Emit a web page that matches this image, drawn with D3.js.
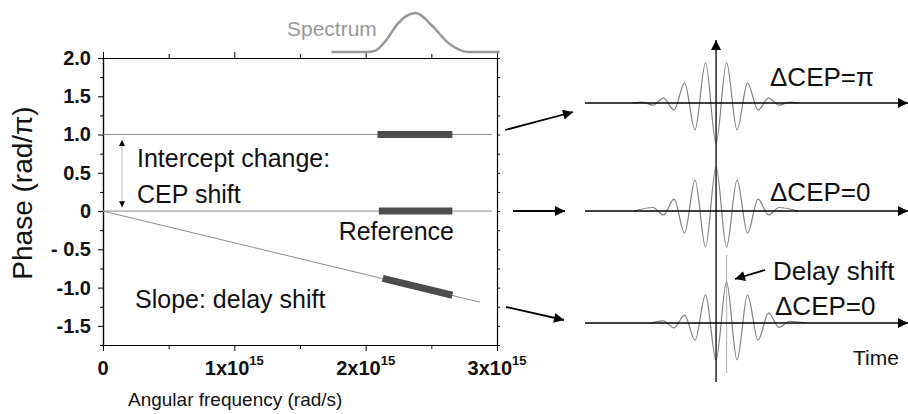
<!DOCTYPE html>
<html>
<head>
<meta charset="utf-8">
<script src="https://cdn.jsdelivr.net/npm/d3@7"></script>
<style>
  body { margin: 0; background: #fff; }
  svg { display: block; font-family: "Liberation Sans", Arial, Helvetica, sans-serif; }
</style>
</head>
<body>
<div id="chart"></div>
<script>
// ---- data ----
const phaseTicks = [-1.5, -1.0, -0.5, 0, 0.5, 1.0, 1.5, 2.0];
const phaseTickLabels = ["-1.5", "-1.0", "- 0.5", "0", "0.5", "1.0", "1.5", "2.0"];
const phaseMinor = [-1.75, -1.25, -0.75, -0.25, 0.25, 0.75, 1.25, 1.75];
const freqTicks = [0, 1e15, 2e15, 3e15];
const freqTickMantissa = ["0", "1x10", "2x10", "3x10"];
const freqTickExp = ["", "15", "15", "15"];
const freqMinor = [0.5e15, 1.5e15, 2.5e15];

// thin phase lines, [omega, phase/pi]
const cepLine = [[0, 1.0], [2.96e15, 1.0]];
const refLine = [[0, 0], [2.96e15, 0]];
const slopeLine = [[0, 0], [2.87e15, -1.19]];
// thick parts over the spectrum
const cepBar = [[2.09e15, 1.0], [2.66e15, 1.0]];
const refBar = [[2.1e15, 0], [2.66e15, 0]];
const slopeBar = [[2.13e15, -0.88], [2.66e15, -1.10]];

// spectrum drawn above the frame
const spectrumOmega = [1.74e15, 2.01e15, 2.07e15, 2.16e15, 2.24e15, 2.38e15, 2.51e15, 2.62e15, 2.72e15, 2.79e15, 3.02e15];
const spectrumValue = [0, 0, 0.03, 0.32, 0.71, 1.0, 0.66, 0.26, 0.05, 0, 0];

// pulse field extrema (time in optical cycles, field normalised)
const pulsePiTime = [-3.95, -3.5, -3, -2.5, -2, -1.5, -1, -0.5, 0, 0.5, 1, 1.5, 2, 2.5, 3, 3.5, 3.9];
const pulsePiField = [0, 0.02, -0.05, 0.11, -0.16, 0.45, -0.61, 0.91, -0.91, 0.91, -0.61, 0.45, -0.16, 0.11, -0.05, 0.02, 0];
const pulseZeroTime = [-3.9, -3, -2.5, -2, -1.5, -1, -0.5, 0, 0.5, 1, 1.5, 2, 2.5, 3, 3.9];
const pulseZeroField = [0, 0.08, -0.09, 0.27, -0.5, 0.7, -0.82, 1.0, -0.82, 0.7, -0.5, 0.27, -0.09, 0.08, 0];
const pulseDelayTime = [-3.1, -2.5, -2, -1.5, -1, -0.5, 0, 0.5, 1, 1.5, 2, 2.5, 3, 3.5, 4.3];
const pulseDelayField = [0, 0.05, -0.11, 0.18, -0.39, 0.64, -0.84, 0.93, -0.84, 0.64, -0.39, 0.23, -0.1, 0.04, 0];
const delayMark = 0.5;

const rowLabels = ["\u0394CEP=\u03c0", "\u0394CEP=0", "\u0394CEP=0"];

// ---- layout ----
const W = 908, H = 414;
const plot = { left: 103, right: 497, top: 58, bottom: 345 };
const thin = "#8c8c8c", bar = "#4d4d4d";

const svg = d3.select("#chart").append("svg")
  .attr("width", W)
  .attr("height", H);

const defs = svg.append("defs");
function marker(id, len, wid) {
  defs.append("marker")
    .attr("id", id)
    .attr("viewBox", "0 0 10 10")
    .attr("refX", 10).attr("refY", 5)
    .attr("markerUnits", "userSpaceOnUse")
    .attr("markerWidth", len).attr("markerHeight", wid)
    .attr("orient", "auto-start-reverse")
    .append("path")
    .attr("d", "M0,0L10,5L0,10z")
    .attr("fill", "#000");
}
marker("head-big", 16, 10);
marker("head-axis", 12, 10);
marker("head-small", 9, 6);

const x = d3.scaleLinear().domain([0, 3e15]).range([plot.left, plot.right]);
const y = d3.scaleLinear().domain([-1.75, 2.0]).range([plot.bottom, plot.top]);

// axes
const gAxes = svg.append("g");
function styleAxis(g) {
  g.select(".domain").attr("stroke", "#000").attr("stroke-width", 1.2);
  g.selectAll(".tick line").attr("stroke", "#000").attr("stroke-width", 1);
}
gAxes.append("g").attr("transform", `translate(${plot.left},0)`)
  .call(d3.axisLeft(y).tickValues(phaseTicks).tickSize(5).tickSizeOuter(0).tickPadding(7)
    .tickFormat((d, i) => phaseTickLabels[i]))
  .call(styleAxis)
  .call(g => g.selectAll("text").attr("font-size", 20).attr("font-weight", "bold").attr("fill", "#111"));
gAxes.append("g").attr("transform", `translate(${plot.left},0)`)
  .call(d3.axisLeft(y).tickValues(phaseMinor).tickSize(3).tickSizeOuter(0).tickFormat(""))
  .call(styleAxis);
gAxes.append("g").attr("transform", `translate(${plot.right},0)`)
  .call(d3.axisRight(y).tickValues(phaseTicks.concat(phaseMinor)).tickSize(3).tickSizeOuter(0).tickFormat(""))
  .call(styleAxis);

[["bottom", plot.bottom, d3.axisBottom], ["top", plot.top, d3.axisTop]].forEach(([name, pos, ax]) => {
  gAxes.append("g").attr("transform", `translate(0,${pos})`)
    .call(ax(x).tickValues(freqTicks).tickSize(6).tickSizeOuter(0).tickFormat(""))
    .call(styleAxis);
  gAxes.append("g").attr("transform", `translate(0,${pos})`)
    .call(ax(x).tickValues(freqMinor).tickSize(4).tickSizeOuter(0).tickFormat(""))
    .call(styleAxis);
});

// x tick labels with superscript exponents
const xl = gAxes.selectAll(".xlab")
  .data(freqTicks)
  .join("text")
  .attr("class", "xlab")
  .attr("x", d => x(d))
  .attr("y", 375)
  .attr("text-anchor", "middle")
  .attr("font-size", 20)
  .attr("font-weight", "bold")
  .attr("fill", "#111");
xl.append("tspan").text((d, i) => freqTickMantissa[i]);
xl.append("tspan")
  .attr("dy", -10)
  .attr("font-size", 13)
  .text((d, i) => freqTickExp[i]);

// axis titles
svg.append("text")
  .attr("x", 128).attr("y", 406)
  .attr("font-size", 19)
  .attr("fill", "#111")
  .text("Angular frequency (rad/s)");
svg.append("text")
  .attr("transform", "translate(32,193) rotate(-90)")
  .attr("text-anchor", "middle")
  .attr("font-size", 28)
  .attr("fill", "#111")
  .text("Phase (rad/\u03c0)");

// phase lines
const line = d3.line().x(d => x(d[0])).y(d => y(d[1]));
[cepLine, refLine, slopeLine].forEach(d => {
  svg.append("path").datum(d).attr("d", line)
    .attr("fill", "none").attr("stroke", thin).attr("stroke-width", 1);
});
[cepBar, refBar, slopeBar].forEach(d => {
  svg.append("path").datum(d).attr("d", line)
    .attr("fill", "none").attr("stroke", bar).attr("stroke-width", 7);
});

// spectrum
const sy = d3.scaleLinear().domain([0, 1]).range([52, 13]);
svg.append("path")
  .datum(d3.zip(spectrumOmega, spectrumValue))
  .attr("d", d3.line().x(d => x(d[0])).y(d => sy(d[1])).curve(d3.curveMonotoneX))
  .attr("fill", "none")
  .attr("stroke", "#999")
  .attr("stroke-width", 2.5);
svg.append("text")
  .attr("x", 287).attr("y", 36)
  .attr("font-size", 21)
  .attr("fill", "#999")
  .text("Spectrum");

// double arrow for the intercept change
svg.append("line")
  .attr("x1", 122).attr("x2", 122)
  .attr("y1", y(0.93)).attr("y2", y(0.05))
  .attr("stroke", "#bbb").attr("stroke-width", 1)
  .attr("marker-start", "url(#head-small)")
  .attr("marker-end", "url(#head-small)");

// annotations in the plot
const note = (tx, ty, s, anchor, size) => svg.append("text")
  .attr("x", tx).attr("y", ty)
  .attr("text-anchor", anchor || "start")
  .attr("font-size", size || 25)
  .attr("fill", "#111")
  .text(s);
note(137, 167, "Intercept change:");
note(137, 203, "CEP shift");
note(454, 240, "Reference", "end");
note(135, 308, "Slope: delay shift");

// ---- pulses on the right ----
const rowY = [103, 211, 323];
const t = d3.scaleLinear().domain([-6.24, 9.14]).range([585, 908]);
const f = d3.scaleLinear().domain([-1, 1]).range([44, -44]);
const pulses = [
  d3.zip(pulsePiTime, pulsePiField),
  d3.zip(pulseZeroTime, pulseZeroField),
  d3.zip(pulseDelayTime, pulseDelayField)
];
const wave = d3.line().x(d => t(d[0])).y(d => f(d[1])).curve(d3.curveMonotoneX);

// delay marker behind the bottom pulse
svg.append("line")
  .attr("x1", t(delayMark)).attr("x2", t(delayMark))
  .attr("y1", 255).attr("y2", 373)
  .attr("stroke", "#bbb").attr("stroke-width", 1.2);

pulses.forEach((p, i) => {
  const g = svg.append("g").attr("transform", `translate(0,${rowY[i]})`);
  g.append("path").datum(p).attr("d", wave)
    .attr("fill", "none").attr("stroke", "#808080").attr("stroke-width", 1.2);
  g.append("line")
    .attr("x1", t.range()[0]).attr("x2", t.range()[1])
    .attr("y1", 0).attr("y2", 0)
    .attr("stroke", "#000").attr("stroke-width", 1.3)
    .attr("marker-end", "url(#head-axis)");
});

// vertical time-zero axis
svg.append("line")
  .attr("x1", t(0)).attr("x2", t(0))
  .attr("y1", 382).attr("y2", 40)
  .attr("stroke", "#000").attr("stroke-width", 1.3)
  .attr("marker-end", "url(#head-axis)");

// arrows from the phase plot to the pulses
[[505, 130, 573, 112], [513, 211, 565, 211], [506, 307, 564, 320], [765, 270, 735, 279]].forEach(a => {
  svg.append("line")
    .attr("x1", a[0]).attr("y1", a[1]).attr("x2", a[2]).attr("y2", a[3])
    .attr("stroke", "#000").attr("stroke-width", 1.8)
    .attr("marker-end", "url(#head-big)");
});

// labels on the right
note(770, 86, rowLabels[0], "start", 26);
note(770, 201, rowLabels[1], "start", 26);
note(773, 280, "Delay shift", "start", 26);
note(775, 315, rowLabels[2], "start", 26);
note(853, 365, "Time", "start", 21);
</script>
</body>
</html>
